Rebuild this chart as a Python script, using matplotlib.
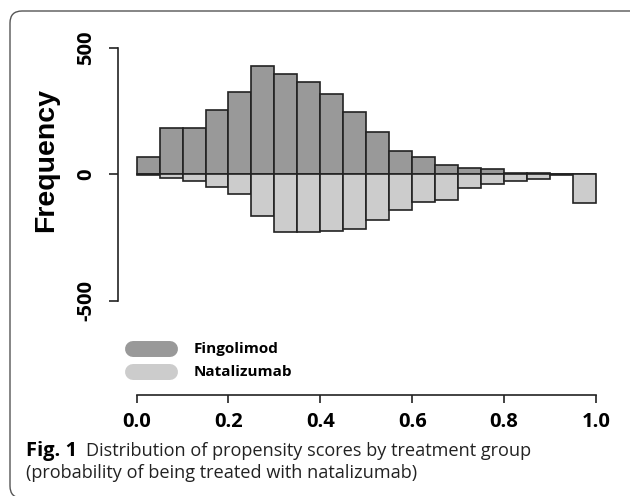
import numpy as np
import matplotlib
matplotlib.use('Agg')
import matplotlib.pyplot as plt
from matplotlib.patches import FancyBboxPatch
from matplotlib.lines import Line2D
from matplotlib.transforms import IdentityTransform

# propensity score bins (width 0.05) and counts
bin_left = [0.00, 0.05, 0.10, 0.15, 0.20, 0.25, 0.30, 0.35, 0.40, 0.45,
            0.50, 0.55, 0.60, 0.65, 0.70, 0.75, 0.80, 0.85, 0.90, 0.95]
fingolimod = [70, 182, 182, 253, 326, 427, 397, 363, 317, 247,
              166, 91, 70, 36, 26, 20, 7, 7, 3, 0]
natalizumab = [4, 13, 25, 50, 79, 163, 229, 229, 224, 215,
               179, 140, 109, 100, 55, 40, 25, 20, 3, 115]
xticks = [0.0, 0.2, 0.4, 0.6, 0.8, 1.0]
yticks = [-500, 0, 500]
groups = ['Fingolimod', 'Natalizumab']
colors = ['#999999', '#cccccc']

W, H = 630, 496
fig = plt.figure(figsize=(W/100, H/100), dpi=100)

# outer rounded frame (runs off the right and bottom edges)
frame = FancyBboxPatch((10, -2), 640, H - 11 + 2, boxstyle='round,pad=0,rounding_size=12',
                       transform=IdentityTransform(), fill=False, edgecolor='#555555', lw=1.0)
fig.patches.append(frame)

ax = fig.add_axes([118/W, (H-395)/H, (600-118)/W, (395-40)/H])
ax.bar(bin_left, fingolimod, width=0.05, align='edge', color=colors[0],
       edgecolor='#222222', linewidth=1.2)
ax.bar(bin_left, [-v for v in natalizumab], width=0.05, align='edge', color=colors[1],
       edgecolor='#222222', linewidth=1.2)

ax.set_xlim(-0.0405, 1.0087)
ax.set_ylim(-871, 530)
for s in ['top', 'right']:
    ax.spines[s].set_visible(False)
ax.spines['left'].set_bounds(-500, 500)
ax.spines['bottom'].set_bounds(0, 1)
for s in ['left', 'bottom']:
    ax.spines[s].set_linewidth(1.2)
    ax.spines[s].set_color('#222222')
ax.set_facecolor('none')

ax.set_xticks(xticks)
ax.set_xticklabels(['%.1f' % t for t in xticks], fontfamily='Open Sans',
                   fontweight='bold', fontsize=14.5)
ax.set_yticks(yticks)
ax.set_yticklabels([str(t) for t in yticks], fontfamily='Open Sans',
                   fontweight='bold', fontsize=14.5, rotation=90, va='center')
ax.tick_params(axis='x', length=5.5, width=1.2, pad=7, color='#222222')
ax.tick_params(axis='y', length=6.5, width=1.2, pad=9, color='#222222')

fig.text(46/W, 1-160/H, 'Frequency', rotation=90, ha='center', va='center',
         fontfamily='Liberation Sans', fontweight='bold', fontsize=20.5)

# legend
for i, (g, c) in enumerate(zip(groups, colors)):
    yy = 1 - (349 + 23*i)/H
    fig.add_artist(Line2D([133/W, 170/W], [yy, yy], color=c, lw=11.5,
                          solid_capstyle='round', transform=fig.transFigure))
    fig.text(194/W, yy, g, ha='left', va='center', fontfamily='Open Sans',
             fontweight='bold', fontsize=11)

# caption
fig.text(26/W, 1-451/H, 'Fig. 1', ha='left', va='center', fontfamily='Open Sans',
         fontweight='bold', fontsize=14.5)
fig.text(86/W, 1-451/H, 'Distribution of propensity scores by treatment group',
         ha='left', va='center', fontfamily='Open Sans', fontsize=13.1, color='#222222')
fig.text(26/W, 1-473/H, '(probability of being treated with natalizumab)',
         ha='left', va='center', fontfamily='Open Sans', fontsize=13.1, color='#222222')

fig.savefig('out.png', dpi=100)
